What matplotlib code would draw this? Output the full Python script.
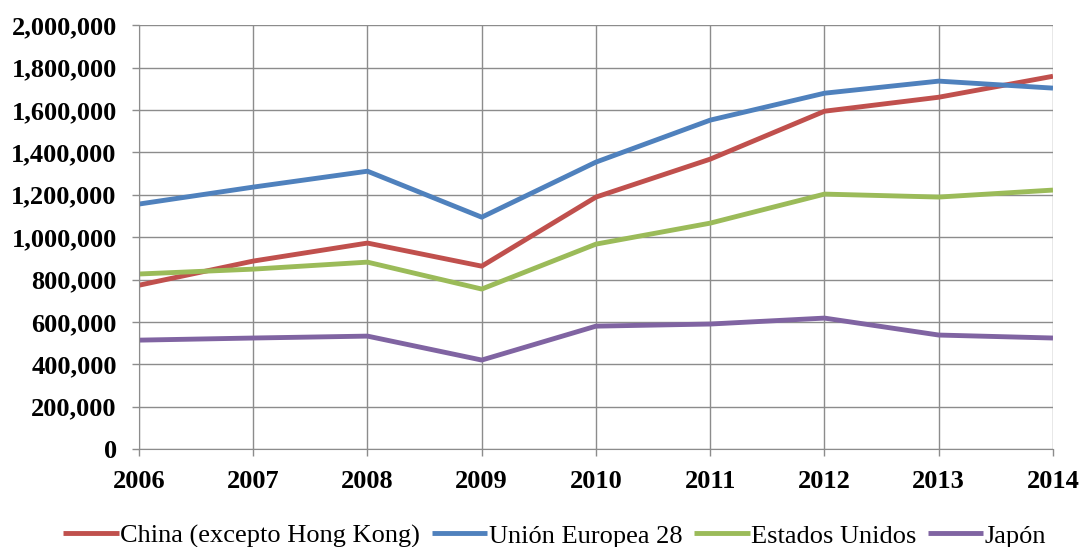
import numpy as np
import matplotlib.pyplot as plt
from matplotlib.ticker import FuncFormatter

years = [2006, 2007, 2008, 2009, 2010, 2011, 2012, 2013, 2014]
china = [773000, 887000, 972000, 863000, 1189000, 1368000, 1594000, 1660000, 1759000]
ue28 = [1156000, 1236000, 1311000, 1094000, 1354000, 1552000, 1679000, 1736000, 1703000]
eeuu = [826000, 849000, 882000, 755000, 967000, 1066000, 1203000, 1189000, 1222000]
japon = [514000, 524000, 533000, 420000, 580000, 590000, 618000, 538000, 524000]

labels = ['China (excepto Hong Kong)', 'Unión Europea 28', 'Estados Unidos', 'Japón']
colors = ['#C0504D', '#4F81BD', '#9BBB59', '#8064A2']

plt.rcParams['font.family'] = ['Liberation Serif', 'DejaVu Serif']

fig = plt.figure(figsize=(10.83, 5.47), dpi=100)
ax = fig.add_axes([0.1283, 0.179, 0.844, 0.775])

for serie, lab, col in zip([china, ue28, eeuu, japon], labels, colors):
    ax.plot(years, serie, color=col, linewidth=3.5, label=lab, solid_capstyle='butt')

ax.set_xlim(2006, 2014)
ax.set_ylim(0, 2000000)
ax.set_xticks(years)
ax.set_yticks(np.arange(0, 2000001, 200000))
ax.yaxis.set_major_formatter(FuncFormatter(lambda v, p: f'{int(v):,}'))
ax.grid(True, color='#8c8c8c', linewidth=1)
ax.set_axisbelow(True)
for s in ax.spines.values():
    s.set_visible(False)
ax.spines['left'].set_visible(True)
ax.spines['bottom'].set_visible(True)
ax.spines['left'].set_color('#8c8c8c')
ax.spines['bottom'].set_color('#8c8c8c')
ax.tick_params(axis='both', colors='#8c8c8c', length=5, width=1, labelcolor='black')
for t in ax.get_xticklabels() + ax.get_yticklabels():
    t.set_fontweight('bold')
    t.set_fontsize(19)
ax.tick_params(axis='x', pad=10)
ax.tick_params(axis='y', pad=11)

ax.legend(loc='center', bbox_to_anchor=(0.455, -0.205), ncol=4, frameon=False,
          fontsize=19, handlelength=2.1, handletextpad=0.05, columnspacing=0.45,
          borderaxespad=0)

fig.savefig('out.png', dpi=100)
